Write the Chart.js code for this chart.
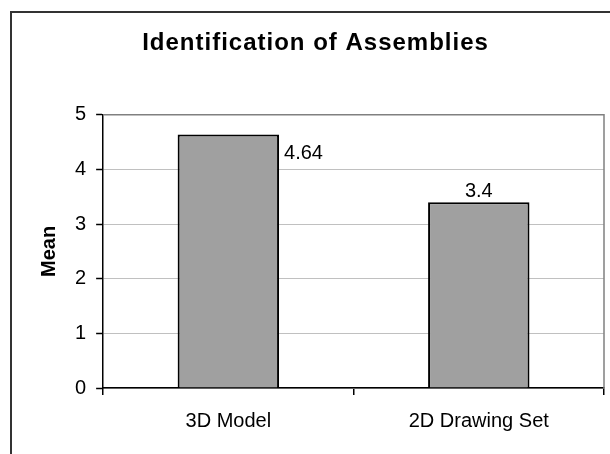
<!DOCTYPE html>
<html>
<head>
<meta charset="utf-8">
<script src="https://cdn.jsdelivr.net/npm/chart.js@4.4.1/dist/chart.umd.min.js"></script>
<style>
  html, body { margin: 0; padding: 0; background: #fff; overflow: hidden; }
  #frame { position: absolute; left: 10px; top: 11px; width: 640px; height: 480px; border: 2px solid #333; box-sizing: border-box; }
  #chart { position: absolute; left: 0; top: 0; }
</style>
</head>
<body>
<div id="frame"></div>
<canvas id="chart" width="620" height="454"></canvas>
<script>
const categories = ['3D Model', '2D Drawing Set'];
const means = [4.64, 3.4];
const yTicks = [0, 1, 2, 3, 4, 5];
const labelPlace = ['right', 'top'];

const family = '"Liberation Sans", Arial, sans-serif';

// the title in the picture is slightly letter-spaced
const titleSpacing = {
    id: 'titleSpacing',
    afterInit(chart) {
        const t = chart.titleBlock;
        const draw = t.draw.bind(t);
        t.draw = function () {
            chart.ctx.save();
            chart.ctx.letterSpacing = '1px';
            draw();
            chart.ctx.restore();
        };
    }
};

// grey top and right edge of the plot area
const plotFrame = {
    id: 'plotFrame',
    beforeDatasetsDraw(chart) {
        const { ctx, chartArea: a } = chart;
        ctx.save();
        ctx.strokeStyle = '#808080';
        ctx.lineWidth = 1.5;
        ctx.beginPath();
        ctx.moveTo(a.left, a.top);
        ctx.lineTo(a.right, a.top);
        ctx.lineTo(a.right, a.bottom);
        ctx.stroke();
        ctx.restore();
    }
};

const barLabels = {
    id: 'barLabels',
    afterDatasetsDraw(chart) {
        const ctx = chart.ctx;
        const meta = chart.getDatasetMeta(0);
        ctx.save();
        ctx.font = '20px ' + family;
        ctx.fillStyle = '#000';
        ctx.textBaseline = 'alphabetic';
        meta.data.forEach((bar, i) => {
            const text = String(means[i]);
            if (labelPlace[i] === 'right') {
                ctx.textAlign = 'left';
                ctx.fillText(text, bar.x + bar.width / 2 + 5, bar.y + 25);
            } else {
                ctx.textAlign = 'center';
                ctx.fillText(text, bar.x, bar.y - 5);
            }
        });
        ctx.restore();
    }
};

const ctx = document.getElementById('chart');
new Chart(ctx, {
    type: 'bar',
    data: {
        labels: categories,
        datasets: [{
            label: 'Mean',
            data: means,
            backgroundColor: '#a0a0a0',
            borderColor: '#000',
            borderWidth: 2,
            barPercentage: 0.405,
            categoryPercentage: 1
        }]
    },
    options: {
        responsive: false,
        animation: false,
        layout: {
            padding: { left: 27, right: 16, top: 0, bottom: 7 }
        },
        plugins: {
            legend: { display: false },
            tooltip: { enabled: false },
            title: {
                display: true,
                text: 'Identification of Assemblies',
                color: '#000',
                font: { family: family, size: 24, weight: 'bold' },
                padding: { top: 29, bottom: 57 }
            }
        },
        scales: {
            x: {
                offset: true,
                grid: {
                    offset: true,
                    drawOnChartArea: false,
                    tickLength: 7,
                    color: '#000',
                    lineWidth: 1.5
                },
                border: { color: '#000', width: 1.5 },
                ticks: {
                    color: '#000',
                    font: { family: family, size: 20 },
                    padding: 14
                }
            },
            y: {
                min: 0,
                max: 5,
                afterBuildTicks: (scale) => {
                    scale.ticks = yTicks.map(v => ({ value: v }));
                },
                grid: {
                    color: '#c0c0c0',
                    lineWidth: 1,
                    tickColor: '#000',
                    tickWidth: 1.5,
                    tickLength: 7
                },
                border: { color: '#000', width: 1.5 },
                ticks: {
                    color: '#000',
                    font: { family: family, size: 20 },
                    padding: 10
                },
                title: {
                    display: true,
                    text: 'Mean',
                    color: '#000',
                    font: { family: family, size: 20, weight: 'bold' },
                    padding: { top: 10, bottom: 4 }
                }
            }
        }
    },
    plugins: [titleSpacing, plotFrame, barLabels]
});
</script>
</body>
</html>
